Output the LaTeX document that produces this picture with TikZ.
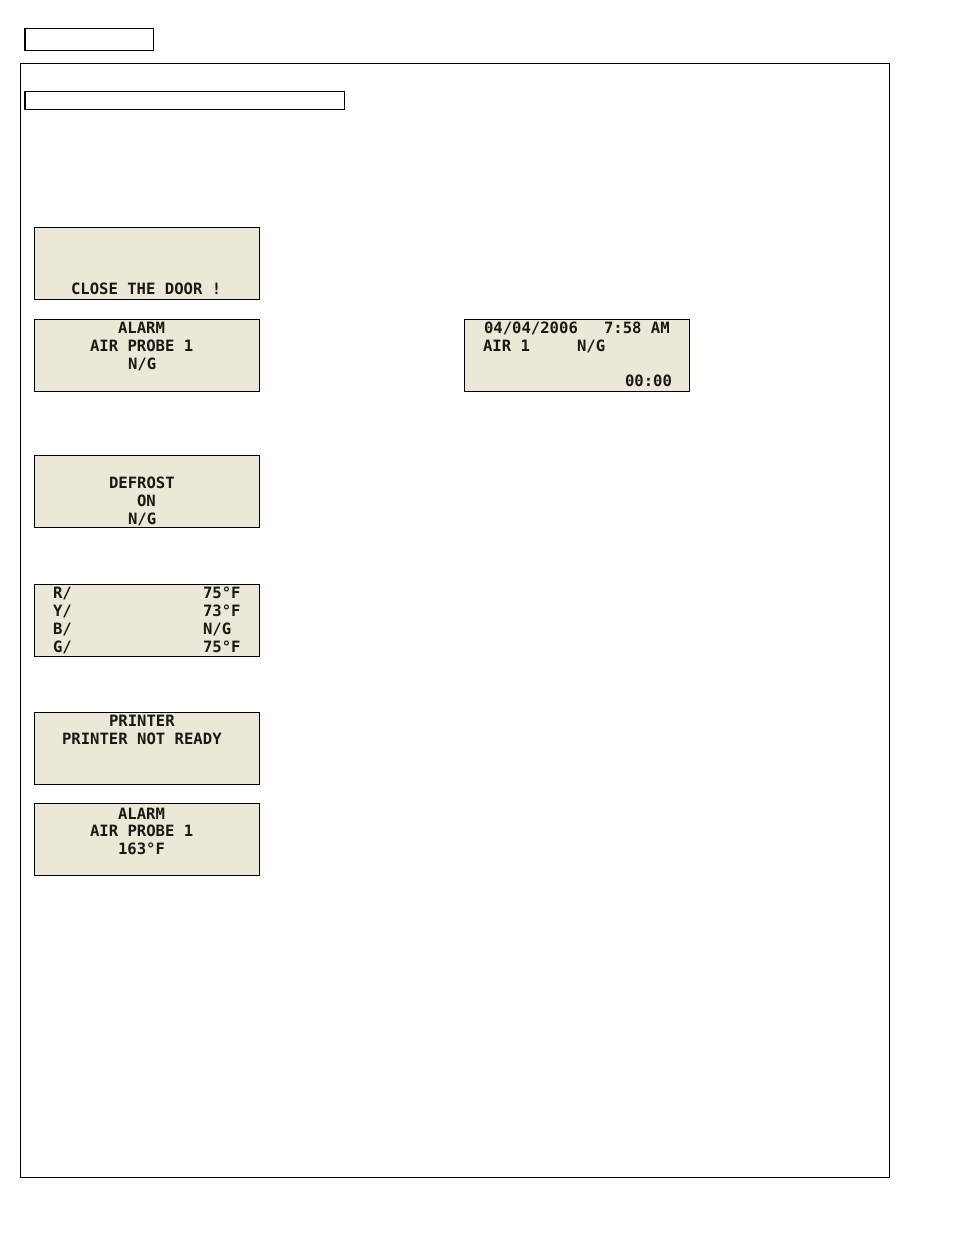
\documentclass[tikz,border=0pt]{standalone}
\usepackage{fontspec}
\newfontfamily\lcdfont{DejaVu Sans Mono Bold}
\definecolor{lcdbg}{HTML}{EBE8D8}
\definecolor{lcdink}{HTML}{1A1A14}
\tikzset{
  frame/.style={draw=black,line width=0.8pt,fill=white},
  lcd/.style={draw=black,line width=0.8pt,fill=lcdbg},
  lcdtext/.style={anchor=base west,inner sep=0pt,outer sep=0pt,text=lcdink,font=\lcdfont\fontsize{11.7pt}{14pt}\selectfont}
}
\begin{document}
\begin{tikzpicture}[x=0.75pt,y=-0.75pt]
\useasboundingbox (0,0) rectangle (954,1235);
\fill[white] (0,0) rectangle (954,1235);
\draw[frame] (25,28.5) rectangle (153.5,50.5);
\draw[frame] (20.5,63.5) rectangle (889.5,1177.5);
\draw[frame] (25,91.5) rectangle (344.5,109.5);
\draw[lcd] (34.5,227.5) rectangle (259.5,299.5);
\draw[lcd] (34.5,319.5) rectangle (259.5,391.5);
\draw[lcd] (464.5,319.5) rectangle (689.5,391.5);
\draw[lcd] (34.5,455.5) rectangle (259.5,527.5);
\draw[lcd] (34.5,584.5) rectangle (259.5,656.5);
\draw[lcd] (34.5,712.5) rectangle (259.5,784.5);
\draw[lcd] (34.5,803.5) rectangle (259.5,875.5);
\node[lcdtext] (a1) at (71,294.5) {CLOSE THE DOOR !};
\node[lcdtext] (b1) at (118,333) {ALARM};
\node[lcdtext] (b2) at (90,351) {AIR PROBE 1};
\node[lcdtext] (b3) at (128,369) {N/G};
\node[lcdtext] (c1) at (484,333) {04/04/2006};
\node[lcdtext] (c2) at (604,333) {7:58 AM};
\node[lcdtext] (c3) at (483,351) {AIR 1};
\node[lcdtext] (c4) at (577,351) {N/G};
\node[lcdtext] (c5) at (625,386) {00:00};
\node[lcdtext] (d1) at (109,488) {DEFROST};
\node[lcdtext] (d2) at (137,506) {ON};
\node[lcdtext] (d3) at (128,524) {N/G};
\node[lcdtext] (e1) at (53,598) {R/};
\node[lcdtext] (e2) at (53,616) {Y/};
\node[lcdtext] (e3) at (53,634) {B/};
\node[lcdtext] (e4) at (53,652) {G/};
\node[lcdtext] (e5) at (203,598) {75°F};
\node[lcdtext] (e6) at (203,616) {73°F};
\node[lcdtext] (e7) at (203,634) {N/G};
\node[lcdtext] (e8) at (203,652) {75°F};
\node[lcdtext] (f1) at (109,726) {PRINTER};
\node[lcdtext] (f2) at (62,744) {PRINTER NOT READY};
\node[lcdtext] (g1) at (118,819) {ALARM};
\node[lcdtext] (g2) at (90,836) {AIR PROBE 1};
\node[lcdtext] (g3) at (118,854) {163°F};
\end{tikzpicture}
\end{document}
